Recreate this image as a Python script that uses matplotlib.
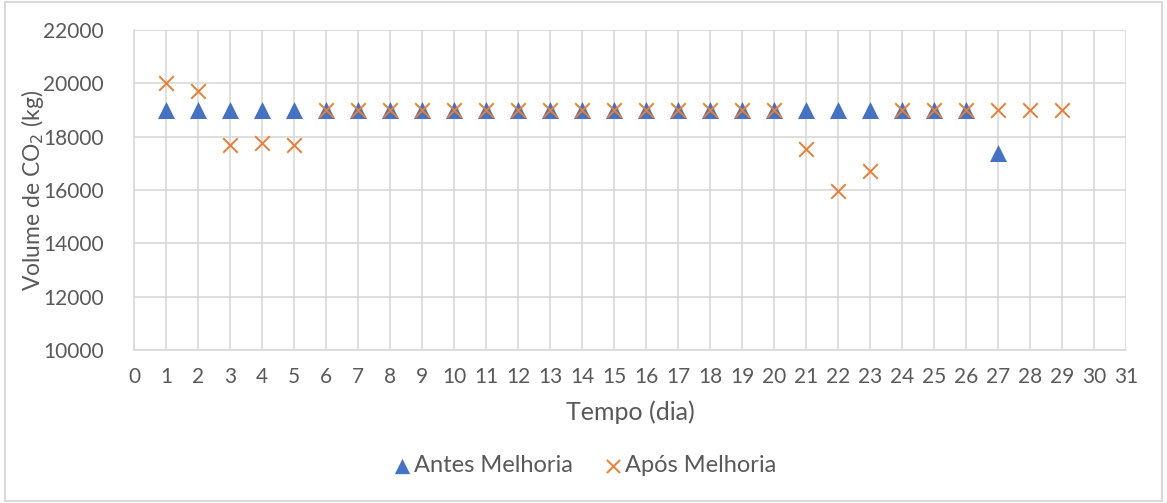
import numpy as np
import matplotlib.pyplot as plt
from matplotlib.patches import Rectangle

plt.rcParams['font.family'] = ['Lato', 'DejaVu Sans']

# daily CO2 volume (kg)
dias_antes = list(range(1, 28))
antes = [19000] * 26 + [17400]

dias_apos = list(range(1, 30))
apos = [20000, 19700, 17700, 17750, 17700] + [19000] * 15 + [17550, 15950, 16700] + [19000] * 6

x_ticks = list(range(0, 32))
y_ticks = [10000, 12000, 14000, 16000, 18000, 20000, 22000]

txt = '#595959'
grid = '#d9d9d9'

fig = plt.figure(figsize=(11.67, 5.03), dpi=100)
ax = fig.add_axes([134/1167, 1 - 350/503, (1126-134)/1167, (350-30)/503])

ax.scatter(dias_antes, antes, marker='^', s=150, color='#4472c4', label='Antes Melhoria', zorder=3, linewidths=0)
ax.scatter(dias_apos, apos, marker='x', s=110, color='#ed7d31', label='Após Melhoria', zorder=4, linewidths=1.4)

ax.set_xlim(0, 31)
ax.set_ylim(10000, 22000)
ax.set_xticks(x_ticks)
ax.set_yticks(y_ticks)
ax.grid(True, color=grid, linewidth=1.2, zorder=0)
ax.set_axisbelow(True)
for s in ['top', 'right']:
    ax.spines[s].set_visible(False)
for s in ['left', 'bottom']:
    ax.spines[s].set_color(grid)
    ax.spines[s].set_linewidth(1.2)
ax.tick_params(length=0, labelsize=15, colors=txt)
ax.tick_params(axis='x', pad=12)
ax.tick_params(axis='y', pad=22)

ax.set_xlabel('Tempo (dia)', fontsize=18, color=txt, labelpad=10)
ax.set_ylabel('Volume de CO$_2$ (kg)', fontsize=16.5, color=txt, labelpad=-2)

leg = fig.legend(loc='center', bbox_to_anchor=(0.5, 1 - 466/503), ncol=2, frameon=False,
                 fontsize=17, handletextpad=0.0, columnspacing=1.2, markerscale=0.9,
                 handlelength=1.0)
for t in leg.get_texts():
    t.set_color(txt)

# chart border
fig.patches.append(Rectangle((0.004, 0.004), 0.992, 0.992, transform=fig.transFigure,
                             fill=False, edgecolor=grid, linewidth=1.5))

fig.savefig('out.png', dpi=100)
